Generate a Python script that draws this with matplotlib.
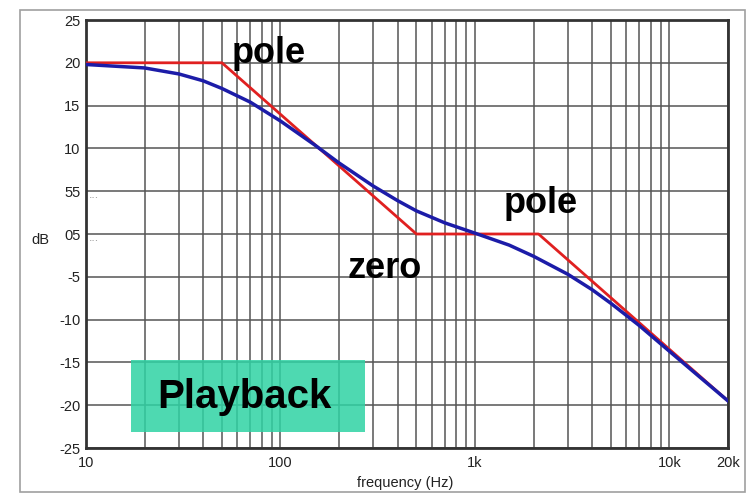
import matplotlib
matplotlib.use("Agg")
import matplotlib.pyplot as plt
from matplotlib.patches import Rectangle
from matplotlib.ticker import FixedLocator, NullFormatter

plt.rcParams['font.family'] = ['Liberation Sans', 'DejaVu Sans']

# Data
asym_freq = [10, 50, 500, 2122, 20000]
asym_db = [20, 20, 0, 0, -19.5]

curve_freq = [10, 20, 30, 40, 50, 70, 100, 150, 200, 300, 400, 500, 700, 1000,
              1500, 2000, 3000, 4000, 5000, 7000, 10000, 15000, 20000]
curve_db = [19.8, 19.4, 18.7, 17.9, 17.0, 15.4, 13.2, 10.4, 8.3, 5.6, 3.9, 2.7, 1.3, 0.1,
            -1.3, -2.6, -4.7, -6.5, -8.1, -10.7, -13.7, -17.1, -19.5]

y_ticks = [25, 20, 15, 10, 5, 0, -5, -10, -15, -20, -25]
y_labels = ['25', '20', '15', '10', '55', '05', '-5', '-10', '-15', '-20', '-25']
x_ticks = [10, 100, 1000, 10000, 20000]
x_labels = ['10', '100', '1k', '10k', '20k']

annotations = [("pole", 56, 20.0), ("zero", 222, -5.1), ("pole", 1410, 2.4)]

W, H = 751, 494
fig = plt.figure(figsize=(W / 100, H / 100), dpi=100)

# outer frame
fig.patches.append(Rectangle((20 / W, 2 / H), 725 / W, 482 / H, transform=fig.transFigure,
                             fill=False, edgecolor='#a0a0a0', linewidth=1.2))

ax = fig.add_axes([86 / W, (H - 448) / H, 642 / W, 428 / H])
ax.set_xscale('log')
ax.set_xlim(10, 20000)
ax.set_ylim(-25, 25)

# grid
minor = []
for d in [10, 100, 1000, 10000]:
    for m in range(2, 10):
        v = d * m
        if v < 20000:
            minor.append(v)
ax.xaxis.set_minor_locator(FixedLocator(minor))
ax.xaxis.set_minor_formatter(NullFormatter())
ax.set_xticks(x_ticks)
ax.set_xticklabels(x_labels)
ax.set_yticks(y_ticks)
ax.set_yticklabels(y_labels)
ax.grid(True, which='both', axis='x', color='#555555', linewidth=1.1)
ax.grid(True, which='major', axis='y', color='#555555', linewidth=1.1)
ax.tick_params(axis='both', which='both', length=0, labelsize=10.5, labelcolor='#222222')
ax.tick_params(axis='x', pad=6)
ax.tick_params(axis='y', pad=4)
for s in ax.spines.values():
    s.set_color('#333333')
    s.set_linewidth(2)
ax.set_axisbelow(True)

ax.plot(asym_freq, asym_db, color='#e02020', linewidth=2, zorder=3)
ax.plot(curve_freq, curve_db, color='#1c1ca8', linewidth=2.5, zorder=4)

for txt, fx, fy in annotations:
    ax.text(fx, fy, txt, fontsize=26, fontweight='bold', color='black',
            ha='left', va='baseline', zorder=5)

# Playback box
fig.patches.append(Rectangle((131 / W, (H - 432) / H), 234 / W, 72 / H,
                             transform=fig.transFigure, facecolor='#2fd3a4',
                             alpha=0.85, edgecolor='none', zorder=6))
fig.text(244 / W, (H - 397) / H, 'Playback', fontsize=29, fontweight='bold',
         ha='center', va='center', zorder=7)

# dotted residue after the garbled labels
for yv in [5, 0]:
    ax.text(0.005, yv - 0.5, '...', transform=ax.get_yaxis_transform(),
            fontsize=9, color='#999999', ha='left', va='center')

fig.text(40 / W, (H - 240) / H, 'dB', fontsize=10.5, ha='center', va='center', color='#222222')
fig.text(405 / W, (H - 483) / H, 'frequency (Hz)', fontsize=10.5, ha='center', va='center',
         color='#222222')

fig.savefig('out.png', dpi=100)
